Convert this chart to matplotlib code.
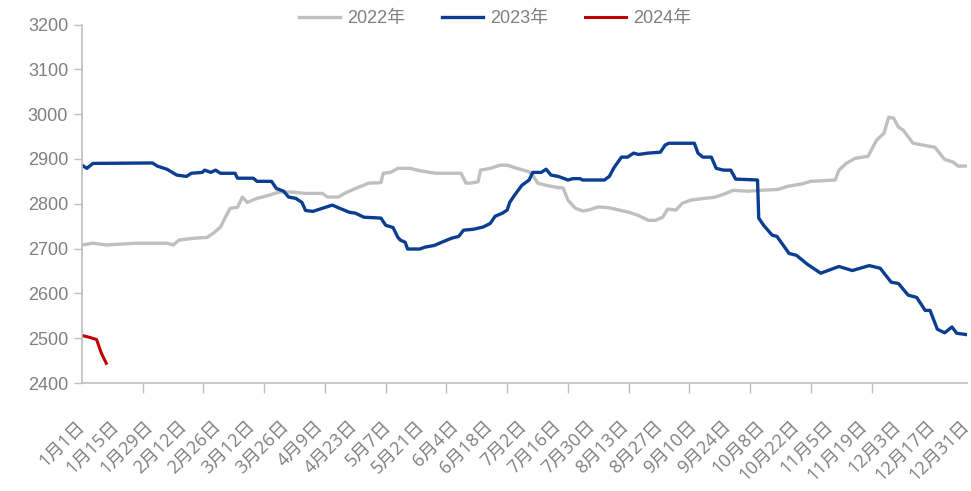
import matplotlib
matplotlib.use("Agg")
import matplotlib.pyplot as plt

# ---- data (day of year offset from Jan 1, value) ----
days_2022 = [0, 4.5, 10, 16, 23, 35, 37.5, 40, 46, 51.5, 54, 57, 59, 61, 64, 66, 68, 72, 77, 81,
             86.5, 92, 99, 101, 105.5, 108, 112.5, 118, 123, 124, 127, 130, 135, 138, 143, 146,
             156, 158, 160, 163, 164, 168, 172, 175, 179, 183, 185, 187.5, 191, 195, 198, 200,
             203, 206, 208.5, 212.5, 217, 221, 225, 229, 233, 236, 239, 241, 244.5, 247, 250.5,
             256, 260, 264, 268, 274, 279.5, 286.5, 290.5, 296, 300, 310, 311.5, 314.5, 318,
             323.5, 327, 330, 332, 334, 336, 338, 342, 346, 351, 355, 358.5, 360.5, 364]
vals_2022 = [2708, 2712, 2708, 2710, 2712, 2712, 2708, 2719, 2723, 2725, 2734, 2748, 2770, 2790,
             2792, 2815, 2803, 2812, 2819, 2826, 2826, 2823, 2823, 2815, 2815, 2823, 2834, 2846,
             2847, 2868, 2870, 2879, 2879, 2875, 2870, 2868, 2868, 2846, 2846, 2849, 2875, 2879,
             2886, 2886, 2879, 2873, 2868, 2846, 2841, 2837, 2835, 2808, 2790, 2784, 2786, 2793,
             2791, 2786, 2781, 2774, 2763, 2763, 2770, 2788, 2786, 2801, 2808, 2812, 2814, 2821,
             2830, 2828, 2830, 2832, 2839, 2844, 2850, 2853, 2875, 2890, 2901, 2906, 2942, 2957,
             2993, 2991, 2971, 2964, 2935, 2931, 2926, 2899, 2893, 2884, 2884]

days_2023 = [0, 2, 4.5, 29, 31, 35, 39, 43, 45, 49.5, 50.5, 53, 55, 57, 63, 64, 70.5, 72, 78, 80,
             83, 85, 88, 90.5, 92, 95, 99, 103, 106, 110, 112.5, 116, 123, 125, 128, 130, 131,
             133, 134, 139, 141, 145, 148, 152, 155, 157, 161, 165, 168, 170, 173, 175, 176, 178,
             181, 184, 185.5, 189, 191, 193, 196, 200, 202, 205, 206, 215, 217, 219, 222, 224.5,
             227, 229, 233, 238, 240, 241.5, 252, 253.5, 255.5, 259, 261, 264, 267, 269, 278,
             278.5, 280.5, 284, 286, 291, 294, 298.5, 304, 311.5, 317, 324, 328.5, 333, 336,
             340, 343.5, 347, 349, 352, 355, 358, 360, 364]
vals_2023 = [2886, 2879, 2890, 2891, 2884, 2877, 2864, 2861, 2868, 2870, 2875, 2870, 2875, 2868,
             2868, 2857, 2857, 2850, 2850, 2834, 2828, 2815, 2812, 2803, 2785, 2783, 2790, 2797,
             2790, 2781, 2779, 2770, 2768, 2752, 2747, 2725, 2719, 2714, 2699, 2699, 2703, 2707,
             2714, 2723, 2727, 2741, 2743, 2748, 2756, 2772, 2779, 2786, 2803, 2819, 2841, 2853,
             2870, 2870, 2877, 2864, 2861, 2853, 2856, 2856, 2853, 2853, 2861, 2881, 2904, 2904,
             2913, 2910, 2913, 2915, 2931, 2935, 2935, 2913, 2904, 2904, 2879, 2875, 2875, 2855,
             2853, 2768, 2752, 2730, 2727, 2689, 2685, 2665, 2645, 2660, 2651, 2662, 2656, 2625,
             2622, 2596, 2591, 2562, 2562, 2520, 2512, 2525, 2511, 2508]

days_2024 = [0, 3, 6, 8, 10]
vals_2024 = [2506, 2502, 2497, 2466, 2444]

series_labels = ['2022年', '2023年', '2024年']
xtick_days = list(range(0, 365, 14))
xtick_labels = ['1月1日', '1月15日', '1月29日', '2月12日', '2月26日', '3月12日', '3月26日',
                '4月9日', '4月23日', '5月7日', '5月21日', '6月4日', '6月18日', '7月2日',
                '7月16日', '7月30日', '8月13日', '8月27日', '9月10日', '9月24日', '10月8日',
                '10月22日', '11月5日', '11月19日', '12月3日', '12月17日', '12月31日']
yticks = [2400, 2500, 2600, 2700, 2800, 2900, 3000, 3100, 3200]

# ---- figure ----
fam = ['Liberation Sans', 'Noto Sans CJK SC', 'DejaVu Sans']
plt.rcParams['font.family'] = fam
txt_color = '#7f7f7f'
axis_color = '#bfbfbf'

fig = plt.figure(figsize=(9.71, 4.91), dpi=100)
ax = fig.add_axes([82/971, 1-383/491, (966.5-82)/971, (383-24.5)/491])

l1, = ax.plot(days_2022, vals_2022, color='#bfbfbf', lw=2.4, solid_joinstyle='round')
l2, = ax.plot(days_2023, vals_2023, color='#0b3d91', lw=2.4, solid_joinstyle='round')
l3, = ax.plot(days_2024, vals_2024, color='#c00000', lw=2.2, solid_joinstyle='round')

ax.set_xlim(0, 364)
ax.set_ylim(2400, 3200)
ax.set_yticks(yticks)
ax.set_yticklabels([str(v) for v in yticks], fontsize=13, color=txt_color)
ax.tick_params(axis='y', length=6, width=1, color=axis_color, pad=4)

ax.set_xticks(xtick_days)
ax.set_xticklabels(xtick_labels, rotation=45, ha='right', va='center',
                   rotation_mode='anchor', fontsize=13, color=txt_color,
                   family=['Open Sans', 'Noto Sans CJK SC', 'DejaVu Sans'])
ax.tick_params(axis='x', which='major', length=0, pad=29)
ax.set_xticks(list(range(0, 365, 25)), minor=True)
ax.tick_params(axis='x', which='minor', length=7, width=1, color=axis_color)

for s in ['top', 'right']:
    ax.spines[s].set_visible(False)
for s in ['left', 'bottom']:
    ax.spines[s].set_color(axis_color)
    ax.spines[s].set_linewidth(1.2)

leg = fig.legend([l1, l2, l3], series_labels, loc='center', ncol=3,
                 bbox_to_anchor=(0.51, 1-19/491), frameon=False, fontsize=13,
                 handlelength=2.3, columnspacing=2.0, handletextpad=0.4)
for t in leg.get_texts():
    t.set_color(txt_color)

fig.savefig('out.png', dpi=100)
